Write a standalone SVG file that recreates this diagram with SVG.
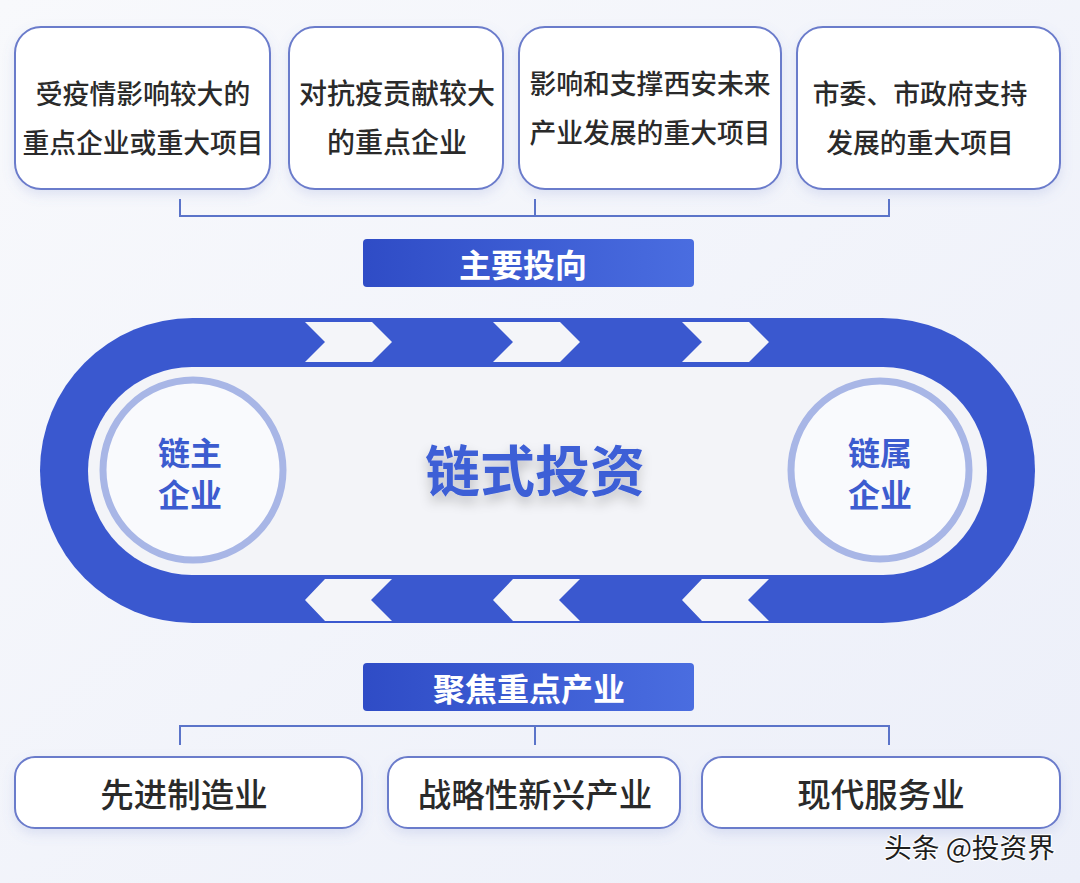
<svg xmlns="http://www.w3.org/2000/svg" width="1080" height="883" viewBox="0 0 1080 883">
<defs>
<linearGradient id="bg" x1="0" y1="0" x2="1" y2="1">
<stop offset="0" stop-color="#f8f9fc"/>
<stop offset="1" stop-color="#eceff9"/>
</linearGradient>
<linearGradient id="ban" x1="0" y1="0" x2="1" y2="0">
<stop offset="0" stop-color="#2f4cc6"/>
<stop offset="1" stop-color="#4a6de0"/>
</linearGradient>
<filter id="sh" x="-10%" y="-20%" width="120%" height="150%">
<feDropShadow dx="0" dy="5" stdDeviation="6" flood-color="#6b7fc8" flood-opacity="0.18"/>
</filter>
<filter id="tsh" x="-20%" y="-30%" width="140%" height="180%">
<feDropShadow dx="0" dy="7" stdDeviation="6" flood-color="#000" flood-opacity="0.22"/>
</filter>
<path id="chevR" d="M0,0 L67,0 L87,20 L67,40 L0,40 L20,20 Z"/>
<path id="chevL" d="M0,21 L20,0 L87,0 L66,21 L87,42 L20,42 Z"/>
</defs>
<style>
.box{fill:#ffffff;stroke:#6b7bcb;stroke-width:2}
.t{font-family:"Noto Sans CJK SC","Noto Sans",sans-serif;fill:#2a2a2a;font-weight:500;text-anchor:middle;dominant-baseline:central}
.top{font-size:26.8px}
.top2{font-size:28px}
.bot{font-size:33.5px}
.bt{font-family:"Noto Sans CJK SC","Noto Sans",sans-serif;fill:#ffffff;font-weight:700;font-size:32px;text-anchor:middle;dominant-baseline:central}
.ct{font-family:"Noto Sans CJK SC","Noto Sans",sans-serif;fill:#3c5ccf;font-weight:700;font-size:32px;text-anchor:middle;dominant-baseline:central}
.ln{fill:none;stroke:#5b74c9;stroke-width:2}
.chev{fill:#f4f5f9}
.ring{fill:#f9fafd;stroke:#a8b6e6;stroke-width:7}
</style>
<rect width="1080" height="883" fill="url(#bg)"/>

<g id="connectors">
<path class="ln" d="M180,199 V216 H889 V199 M535,199 V216"/>
<path class="ln" d="M180,745 V726 H889 V745 M535,745 V726"/>
</g>

<g id="top1"><rect class="box" x="15" y="27" width="255" height="162" rx="26" filter="url(#sh)"/>
<text class="t top" x="143" y="92">受疫情影响较大的</text><text class="t top" x="143" y="141">重点企业或重大项目</text></g>
<g id="top2"><rect class="box" x="289" y="27" width="214" height="162" rx="26" filter="url(#sh)"/>
<text class="t top2" x="397" y="92">对抗疫贡献较大</text><text class="t top2" x="397" y="141">的重点企业</text></g>
<g id="top3"><rect class="box" x="519" y="27" width="262" height="162" rx="26" filter="url(#sh)"/>
<text class="t top" x="650" y="82">影响和支撑西安未来</text><text class="t top" x="650" y="131">产业发展的重大项目</text></g>
<g id="top4"><rect class="box" x="797" y="27" width="263" height="162" rx="26" filter="url(#sh)"/>
<text class="t top" x="920" y="92">市委、市政府支持</text><text class="t top" x="920" y="141">发展的重大项目</text></g>

<g id="banner-top"><rect x="363" y="239" width="331" height="48" rx="4" fill="url(#ban)"/>
<text class="bt" x="523" y="263">主要投向</text></g>

<g id="track">
<rect x="40" y="318" width="995" height="305" rx="152.5" fill="#3a58cf"/>
<rect x="88" y="367" width="899" height="208" rx="104" fill="#f3f4f8"/>
<use href="#chevR" class="chev" x="305" y="322"/>
<use href="#chevR" class="chev" x="493" y="322"/>
<use href="#chevR" class="chev" x="682" y="322"/>
<use href="#chevL" class="chev" x="305" y="579"/>
<use href="#chevL" class="chev" x="493" y="579"/>
<use href="#chevL" class="chev" x="682" y="579"/>
</g>

<g id="center"><text x="535" y="467" font-family="'Noto Sans CJK SC','Noto Sans',sans-serif" font-weight="700" font-size="55" fill="#3d5fd6" text-anchor="middle" dominant-baseline="central" filter="url(#tsh)">链式投资</text></g>

<g id="chain-lead"><circle class="ring" cx="193" cy="470" r="90"/>
<text class="ct" x="190" y="451">链主</text><text class="ct" x="190" y="493">企业</text></g>
<g id="chain-member"><circle class="ring" cx="880" cy="470" r="89"/>
<text class="ct" x="880" y="451">链属</text><text class="ct" x="880" y="493">企业</text></g>

<g id="banner-bottom"><rect x="363" y="663" width="331" height="48" rx="4" fill="url(#ban)"/>
<text class="bt" x="529" y="687">聚焦重点产业</text></g>

<g id="bot1"><rect class="box" x="15" y="757" width="347" height="71" rx="20" filter="url(#sh)"/>
<text class="t bot" x="184" y="792">先进制造业</text></g>
<g id="bot2"><rect class="box" x="388" y="757" width="292" height="71" rx="20" filter="url(#sh)"/>
<text class="t bot" x="535" y="792">战略性新兴产业</text></g>
<g id="bot3"><rect class="box" x="702" y="757" width="358" height="71" rx="20" filter="url(#sh)"/>
<text class="t bot" x="881" y="792">现代服务业</text></g>

<text x="884" y="846" font-family="'Noto Sans CJK SC','Noto Sans',sans-serif" font-size="27" fill="#1e1e1e" stroke="#ffffff" stroke-width="2" paint-order="stroke" dominant-baseline="central" textLength="171" lengthAdjust="spacingAndGlyphs">头条 @投资界</text>
</svg>
